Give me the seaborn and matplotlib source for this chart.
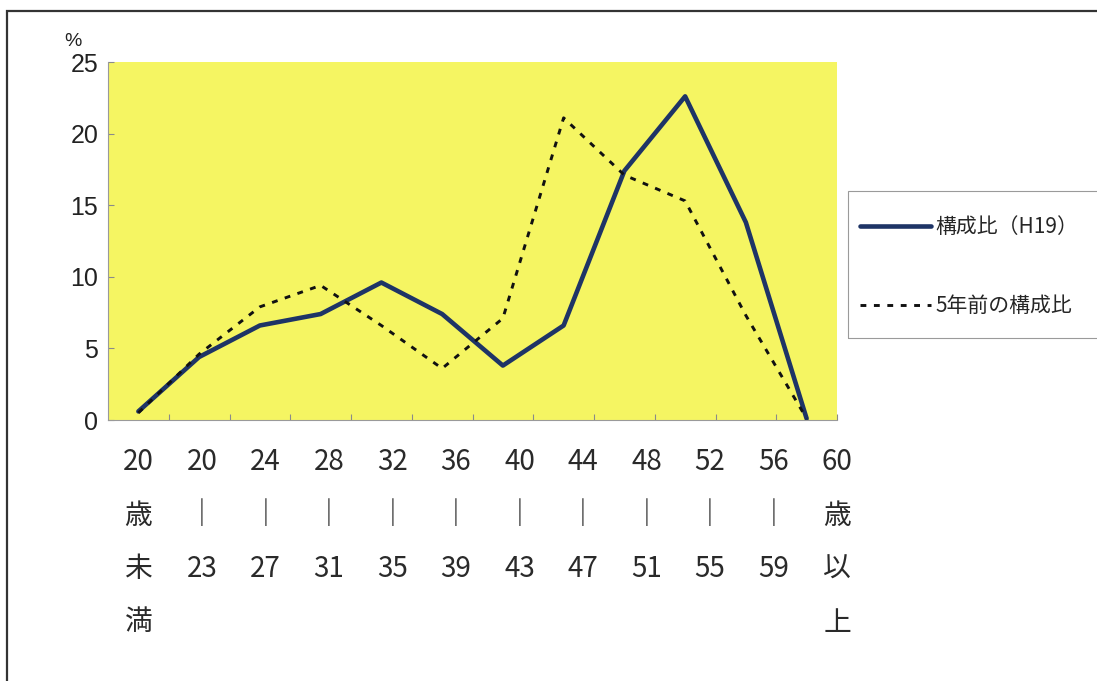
import matplotlib
matplotlib.use("Agg")
import matplotlib.pyplot as plt
from matplotlib.patches import Rectangle
import numpy as np
import pandas as pd
import seaborn as sns

# Age brackets (stacked vertically under the axis)
age_labels = ["20\n歳\n未\n満", "20\n｜\n23", "24\n｜\n27", "28\n｜\n31",
              "32\n｜\n35", "36\n｜\n39", "40\n｜\n43", "44\n｜\n47",
              "48\n｜\n51", "52\n｜\n55", "56\n｜\n59", "60\n歳\n以\n上"]
# Share of each age bracket (%)
share_h19 = [0.6, 4.4, 6.6, 7.4, 9.6, 7.4, 3.8, 6.6, 17.4, 22.6, 13.8, 0.1]
share_prev = [0.5, 4.6, 7.9, 9.4, 6.6, 3.6, 7.1, 21.1, 17.1, 15.3, 7.3, 0.1]
series_names = ["構成比（H19）", "5年前の構成比"]
y_ticks = [0, 5, 10, 15, 20, 25]

sns.set_theme(style="white")
plt.rcParams["font.family"] = ["Noto Sans CJK JP", "DejaVu Sans"]

W, H = 1097, 681
fig = plt.figure(figsize=(W / 100, H / 100), dpi=100)
fig.patch.set_facecolor("white")

ax_l, ax_r, ax_t, ax_b = 108, 837, 62, 420
ax = fig.add_axes([ax_l / W, 1 - ax_b / H, (ax_r - ax_l) / W, (ax_b - ax_t) / H])
ax.set_facecolor("#F5F562")

pos = np.arange(len(age_labels))
df = pd.DataFrame({"pos": pos, "h19": share_h19, "prev": share_prev})

sns.lineplot(data=df, x="pos", y="h19", ax=ax, color="#1E3466",
             linewidth=3.3, label=series_names[0], zorder=3)
sns.lineplot(data=df, x="pos", y="prev", ax=ax, color="#111111",
             linewidth=2.1, linestyle=(0, (2.0, 2.6)),
             label=series_names[1], zorder=4)

ax.set_xlim(-0.5, len(age_labels) - 0.5)
ax.set_ylim(0, 25)
ax.set_xlabel("")
ax.set_ylabel("")

# Ticks on category boundaries, pointing inward
ax.set_xticks(np.arange(0.5, len(age_labels), 1.0))
ax.set_xticklabels([])
ax.set_yticks(y_ticks)
ax.set_yticklabels([str(v) for v in y_ticks], family="Liberation Sans",
                   fontsize=18, color="#222222")
ax.tick_params(axis="both", direction="in", length=4, width=0.8,
               color="#8a8a8a", bottom=True, left=True)
ax.tick_params(axis="y", pad=7)

for side in ("top", "right"):
    ax.spines[side].set_visible(False)
for side in ("left", "bottom"):
    ax.spines[side].set_color("#9a9a9a")
    ax.spines[side].set_linewidth(0.8)

# Stacked age labels, one row at a time
plot_h = ax_b - ax_t
row_baselines = [470, 523.5, 577, 630.5]
n = len(age_labels)
label_x = [i * (n - 0.5) / (n - 1) for i in range(n)]
for x, lab in zip(label_x, age_labels):
    for r, part in enumerate(lab.split("\n")):
        ax.text(x, (ax_b - row_baselines[r]) / plot_h, part,
                transform=ax.get_xaxis_transform(), ha="center",
                va="baseline", fontsize=20, color="#2a2a2a", clip_on=False)

# Unit mark above the y axis
fig.text(73 / W, 1 - 41 / H, "%", ha="center", va="center",
         family="Liberation Sans", fontsize=14, color="#222222")

# Legend with its own box
ax.legend(loc="center left", bbox_to_anchor=(860 / W, 1 - 266.5 / H),
          bbox_transform=fig.transFigure, frameon=False,
          fontsize=15, handlelength=3.4, handletextpad=0.2,
          labelspacing=2.75, borderpad=0, borderaxespad=0)
fig.patches.append(Rectangle((848 / W, 1 - 338 / H), 0.3, 147 / H,
                             transform=fig.transFigure, fill=False,
                             edgecolor="#9a9a9a", linewidth=0.8))

# Outer frame
fig.patches.append(Rectangle((7 / W, -0.1), 1.2, 1.1 - 11 / H,
                             transform=fig.transFigure, fill=False,
                             edgecolor="#333333", linewidth=1.6))

fig.savefig("out.png", dpi=100, facecolor="white")
